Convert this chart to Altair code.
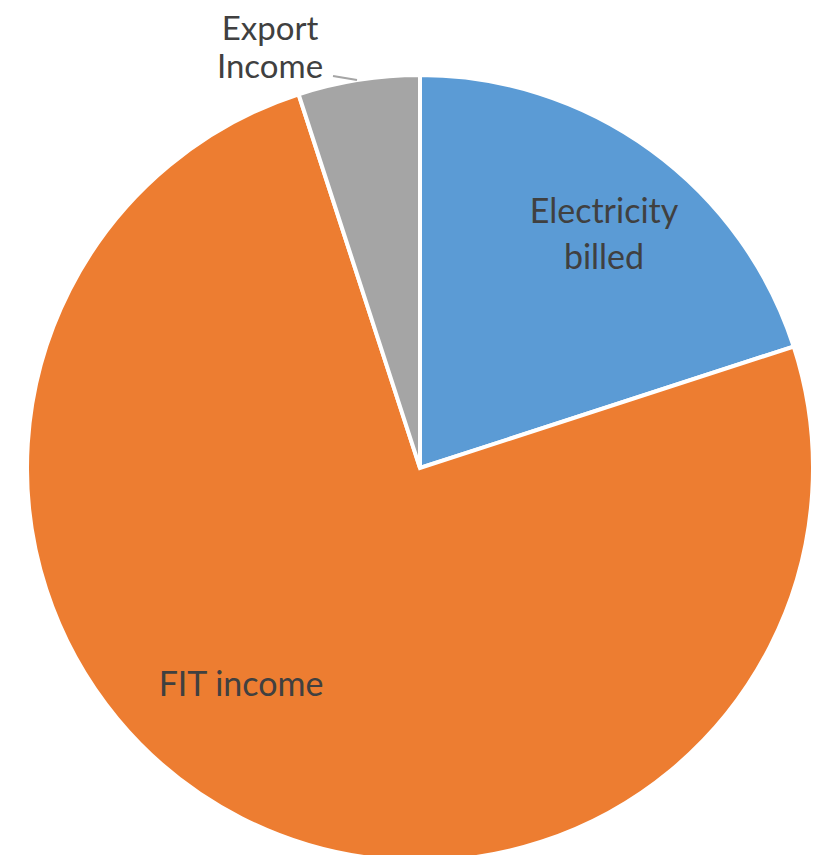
import altair as alt
import pandas as pd

categories = ["Electricity billed", "FIT income", "Export Income"]
values = [20, 75, 5]
colors = ["#5B9BD5", "#ED7D31", "#A5A5A5"]
labels = ["Electricity\nbilled", "FIT income", "Export\nIncome"]

df = pd.DataFrame({"category": categories, "value": values, "idx": [0, 1, 2], "label": labels})

W, H = 807, 847
CX, CY, R = 412, 460, 393

pie = alt.Chart(df).mark_arc(radius=R, stroke="white", strokeWidth=4).encode(
    theta=alt.Theta("value:Q", stack=True),
    order=alt.Order("idx:Q"),
    color=alt.Color("category:N", scale=alt.Scale(domain=categories, range=colors), legend=None),
    x=alt.value(CX),
    y=alt.value(CY),
)

def label_layer(cat, x, y, lh=46, fs=34):
    return alt.Chart(df).transform_filter(alt.datum.category == cat).mark_text(
        font="Lato", fontSize=fs, color="#404040", align="center", baseline="middle",
        lineBreak="\n", lineHeight=lh,
    ).encode(text="label:N", x=alt.value(x), y=alt.value(y))

t1 = label_layer("Electricity billed", 596, 205)
t2 = label_layer("FIT income", 233, 678)
t3 = label_layer("Export Income", 262, 22, lh=38, fs=33)

leader = alt.Chart(df).transform_filter(alt.datum.idx == 2).mark_rule(color="#A5A5A5", strokeWidth=2).encode(
    x=alt.value(325), y=alt.value(68), x2=alt.value(349), y2=alt.value(72)
)

chart = alt.layer(pie, leader, t1, t2, t3).properties(
    width=W, height=H, padding=0, autosize=alt.AutoSizeParams(type="none")
).configure_view(stroke=None)

chart.save("out.html", embed_options={"renderer": "svg", "actions": False})
